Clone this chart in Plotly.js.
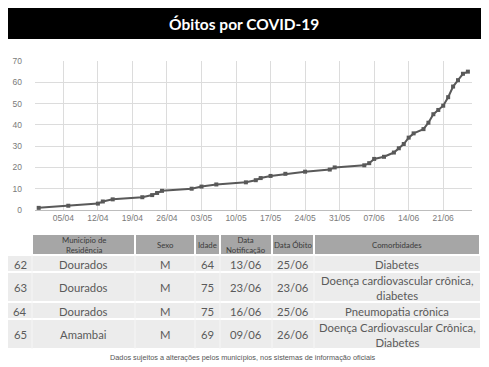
<!DOCTYPE html>
<html>
<head>
<meta charset="utf-8">
<script src="https://cdn.plot.ly/plotly-3.0.1.min.js"></script>
<style>html,body{margin:0;padding:0;background:#fff;}#chart{width:489px;height:367px;}</style>
</head>
<body>
<div id="chart"></div>
<script>
const dates = ['2020-03-31','2020-04-06','2020-04-12','2020-04-13','2020-04-15','2020-04-21','2020-04-23','2020-04-24','2020-04-25','2020-05-01','2020-05-03','2020-05-06','2020-05-12','2020-05-14','2020-05-15','2020-05-17','2020-05-20','2020-05-24','2020-05-29','2020-05-30','2020-06-05','2020-06-06','2020-06-07','2020-06-09','2020-06-11','2020-06-12','2020-06-13','2020-06-14','2020-06-15','2020-06-17','2020-06-18','2020-06-19','2020-06-20','2020-06-21','2020-06-22','2020-06-23','2020-06-24','2020-06-25','2020-06-26'];
const obitos = [1,2,3,4,5,6,7,8,9,10,11,12,13,14,15,16,17,18,19,20,21,22,24,25,27,29,31,34,36,38,41,45,47,49,53,58,61,64,65];

const tableHeader = ['', 'Município de<br>Residência', 'Sexo', 'Idade', 'Data<br>Notificação', 'Data Óbito', 'Comorbidades'];
const caseNum = ['62','63','64','65'];
const municipio = ['Dourados','Dourados','Dourados','Amambai'];
const sexo = ['M','M','M','M'];
const idade = ['64','75','75','69'];
const dataNotif = ['13/06','23/06','16/06','09/06'];
const dataObito = ['25/06','23/06','25/06','26/06'];
const comorb = ['Diabetes','Doença cardiovascular crônica,<br>diabetes','Pneumopatia crônica','Doença Cardiovascular Crônica,<br>Diabetes'];

const W = 489, H = 367;
const px = v => v / W, py = v => 1 - v / H;

const line = {
  type: 'scatter', mode: 'lines+markers', x: dates, y: obitos,
  line: {color: '#595959', width: 2},
  marker: {symbol: 'square', size: 4, color: '#595959'},
  hoverinfo: 'skip', showlegend: false
};

// table geometry (pixels)
const colEdges = [8, 32, 135, 195, 220, 272, 314, 480];
const headTop = 235, headBot = 255;
const rowEdges = [255, 272, 302, 319, 349];
const FONT = 'Lato, "Open Sans", sans-serif';

const shapes = [
  {type: 'rect', xref: 'paper', yref: 'paper', x0: px(8), x1: px(481), y0: py(39), y1: py(8),
   fillcolor: '#000000', line: {width: 0}, layer: 'below'}
];
const annotations = [
  {xref: 'paper', yref: 'paper', x: px(244), y: py(23.5), xanchor: 'center', yanchor: 'middle',
   text: '<b>Óbitos por COVID-19</b>', showarrow: false,
   font: {family: FONT, size: 15.5, color: '#ffffff'}},
  {xref: 'paper', yref: 'paper', x: px(243), y: py(357), xanchor: 'center', yanchor: 'middle',
   text: 'Dados sujeitos a alterações pelos municípios, nos sistemas de informação oficiais', showarrow: false,
   font: {family: '"Liberation Sans", Arial, sans-serif', size: 7.3, color: '#555555'}}
];

// header cells
for (let c = 0; c < tableHeader.length; c++) {
  const x0 = colEdges[c], x1 = colEdges[c + 1];
  if (c > 0) {
    shapes.push({type: 'rect', xref: 'paper', yref: 'paper',
      x0: px(x0 + 1), x1: px(x1 - 1), y0: py(headBot - 1), y1: py(headTop),
      fillcolor: '#a6a6a6', line: {width: 0}, layer: 'below'});
  }
  if (tableHeader[c]) {
    annotations.push({xref: 'paper', yref: 'paper', x: px((x0 + x1) / 2), y: py((headTop + headBot) / 2),
      xanchor: 'center', yanchor: 'middle', align: 'center', showarrow: false,
      text: tableHeader[c], font: {family: FONT, size: 7.8, color: '#3a3a3a'}});
  }
}

// body cells
const columns = [caseNum, municipio, sexo, idade, dataNotif, dataObito, comorb];
for (let r = 0; r < caseNum.length; r++) {
  const y0 = rowEdges[r], y1 = rowEdges[r + 1];
  shapes.push({type: 'rect', xref: 'paper', yref: 'paper',
    x0: px(colEdges[0]), x1: px(colEdges[colEdges.length - 1]), y0: py(y1 - 1), y1: py(y0 + 1),
    fillcolor: '#ececec', line: {width: 0}, layer: 'below'});
  for (let c = 0; c < columns.length; c++) {
    const x0 = colEdges[c], x1 = colEdges[c + 1];
    annotations.push({xref: 'paper', yref: 'paper', x: px((x0 + x1) / 2), y: py((y0 + y1) / 2 + 0.5),
      xanchor: 'center', yanchor: 'middle', align: 'center', showarrow: false,
      text: columns[c][r], font: {family: FONT, size: 11.3, color: '#5a5a5a'}});
  }
}
// faint vertical separators in body
for (let c = 1; c < colEdges.length - 1; c++) {
  shapes.push({type: 'line', xref: 'paper', yref: 'paper',
    x0: px(colEdges[c]), x1: px(colEdges[c]), y0: py(rowEdges[rowEdges.length - 1]), y1: py(rowEdges[0]),
    line: {color: '#f6f6f6', width: 1}, layer: 'below'});
}

const layout = {
  width: W, height: H,
  margin: {l: 0, r: 0, t: 0, b: 0},
  paper_bgcolor: '#ffffff', plot_bgcolor: '#ffffff',
  showlegend: false,
  xaxis: {
    domain: [px(35), px(472)],
    type: 'date',
    range: ['2020-03-30 06:00', '2020-06-26 20:00'],
    tick0: '2020-04-05', dtick: 7 * 86400000,
    tickformat: '%d/%m',
    showgrid: true, gridcolor: '#dcdcdc', gridwidth: 1,
    showline: true, linecolor: '#bdbdbd', linewidth: 1,
    zeroline: false, ticks: '',
    tickfont: {family: '"Liberation Sans", Arial, sans-serif', size: 8.5, color: '#7a7a7a'},
    fixedrange: true
  },
  yaxis: {
    domain: [py(210), py(61)],
    range: [0, 70], dtick: 10,
    showgrid: true, gridcolor: '#dcdcdc', gridwidth: 1,
    zeroline: false, showline: false, ticks: '',
    ticklabelstandoff: 12,
    tickfont: {family: '"Liberation Sans", Arial, sans-serif', size: 8.5, color: '#7a7a7a'},
    fixedrange: true
  },
  shapes: shapes,
  annotations: annotations
};

Plotly.newPlot('chart', [line], layout, {displayModeBar: false, staticPlot: true});
</script>
</body>
</html>
